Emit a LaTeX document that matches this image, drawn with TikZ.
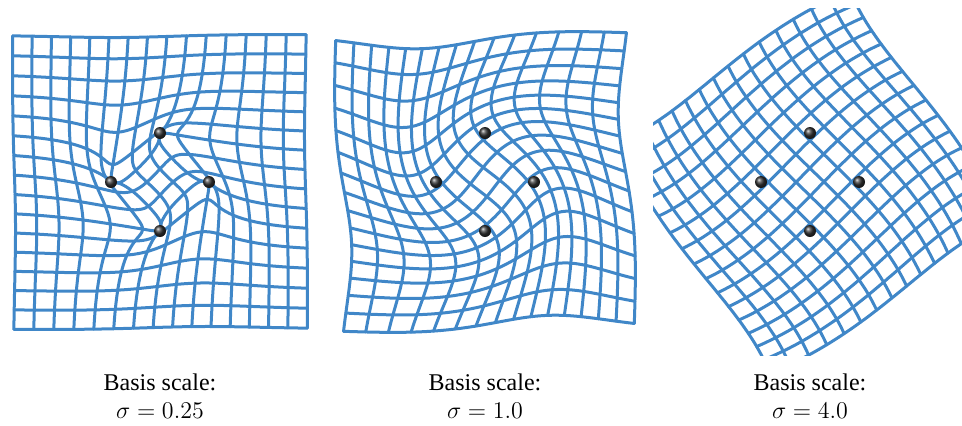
\documentclass[tikz,border=0pt]{standalone}
\usepackage{fontspec}
\setmainfont{Liberation Serif}
\definecolor{gridblue}{RGB}{64,135,200}
\tikzset{
  gridline/.style={gridblue, line width=1.5pt, line join=round, line cap=round},
  ctrl/.style={circle, inner sep=0pt, minimum size=6pt, shading=ball, ball color=black!80},
  caption/.style={font=\fontsize{12}{14}\selectfont, inner sep=0pt, anchor=base}
}
% kernel phi(d) = exp(-(d/s)^p); #1 = rotation angle, #2 = s, #3 = p
\newcommand\setpanel[3]{%
  \pgfmathsetmacro\th{#1}%
  \pgfmathsetmacro\ig{1/((#2)*(#2))}%
  \pgfmathsetmacro\qq{(#3)/2}%
  \pgfmathsetmacro\rr{1/3}%
  \pgfmathsetmacro\den{1-exp(-(4*\rr*\rr*\ig)^\qq)}%
  \pgfmathsetmacro\sax{\rr*cos(-\th)}%
  \pgfmathsetmacro\say{\rr*sin(-\th)}%
  \pgfmathsetmacro\cth{cos(\th)-1}%
  \pgfmathsetmacro\sth{sin(\th)}%
}
\newcommand\warp[2]{%
  \pgfmathsetmacro\gA{exp(-min(12,((((#1)-(\sax))^2+((#2)-(\say))^2)*\ig+0.0001)^\qq))}%
  \pgfmathsetmacro\gB{exp(-min(12,((((#1)+(\say))^2+((#2)-(\sax))^2)*\ig+0.0001)^\qq))}%
  \pgfmathsetmacro\gC{exp(-min(12,((((#1)+(\sax))^2+((#2)+(\say))^2)*\ig+0.0001)^\qq))}%
  \pgfmathsetmacro\gD{exp(-min(12,((((#1)-(\say))^2+((#2)+(\sax))^2)*\ig+0.0001)^\qq))}%
  \pgfmathsetmacro\Sx{((\sax)*(\gA-\gC)-(\say)*(\gB-\gD))/\den}%
  \pgfmathsetmacro\Sy{((\say)*(\gA-\gC)+(\sax)*(\gB-\gD))/\den}%
  \pgfmathsetmacro\wx{(#1)+(\cth)*(\Sx)-(\sth)*(\Sy)}%
  \pgfmathsetmacro\wy{(#2)+(\sth)*(\Sx)+(\cth)*(\Sy)}%
}
% #1 = number of samples along a line minus one, #2 = plot options
\newcommand\warpgrid[2]{%
  \foreach \i in {0,...,15} {%
    \pgfmathsetmacro\u{-1+\i*2/15}%
    \gdef\ptsV{}\gdef\ptsH{}%
    \foreach \j in {0,...,#1} {%
      \pgfmathsetmacro\v{-1+\j*2/#1}%
      \warp{\u}{\v}\xdef\ptsV{\ptsV (\wx,\wy)}%
      \warp{\v}{\u}\xdef\ptsH{\ptsH (\wx,\wy)}%
    }%
    \edef\tmp{\noexpand\draw[gridline] plot[#2] coordinates {\ptsV};
      \noexpand\draw[gridline] plot[#2] coordinates {\ptsH};}\tmp
  }%
}
\begin{document}
\begin{tikzpicture}[x=0.5pt, y=-0.5pt]
\useasboundingbox (0,0) rectangle (962,425);
% panel 1
\begin{scope}
  \clip (3,8) rectangle (312,355);
  \begin{scope}[shift={(160,182)}, x=73.5pt, y=73.5pt]
    \setpanel{55}{0.28}{1}\warpgrid{60}{smooth}
  \end{scope}
\end{scope}
% panel 2
\begin{scope}
  \clip (328,8) rectangle (637,355);
  \begin{scope}[shift={(485,182)}, x=73.5pt, y=73.5pt]
    \setpanel{45}{0.707}{2}\warpgrid{45}{smooth}
  \end{scope}
\end{scope}
% panel 3
\begin{scope}
  \clip (653,8) rectangle (962,355);
  \begin{scope}[shift={(810,182)}, x=73.5pt, y=73.5pt]
    \setpanel{45}{2.4}{2}\warpgrid{45}{smooth}
  \end{scope}
\end{scope}
% control points
\foreach \c/\n in {160/a, 485/b, 810/c} {
  \node[ctrl] (\n N) at (\c,133) {};
  \node[ctrl] (\n W) at (\c-49,182) {};
  \node[ctrl] (\n E) at (\c+49,182) {};
  \node[ctrl] (\n S) at (\c,231) {};
}
% captions
\node[caption] (t1) at (160,390) {Basis scale:};
\node[caption] (s1) at (160,418) {$\sigma = 0.25$};
\node[caption] (t2) at (485,390) {Basis scale:};
\node[caption] (s2) at (485,418) {$\sigma = 1.0$};
\node[caption] (t3) at (810,390) {Basis scale:};
\node[caption] (s3) at (810,418) {$\sigma = 4.0$};
\end{tikzpicture}
\end{document}
